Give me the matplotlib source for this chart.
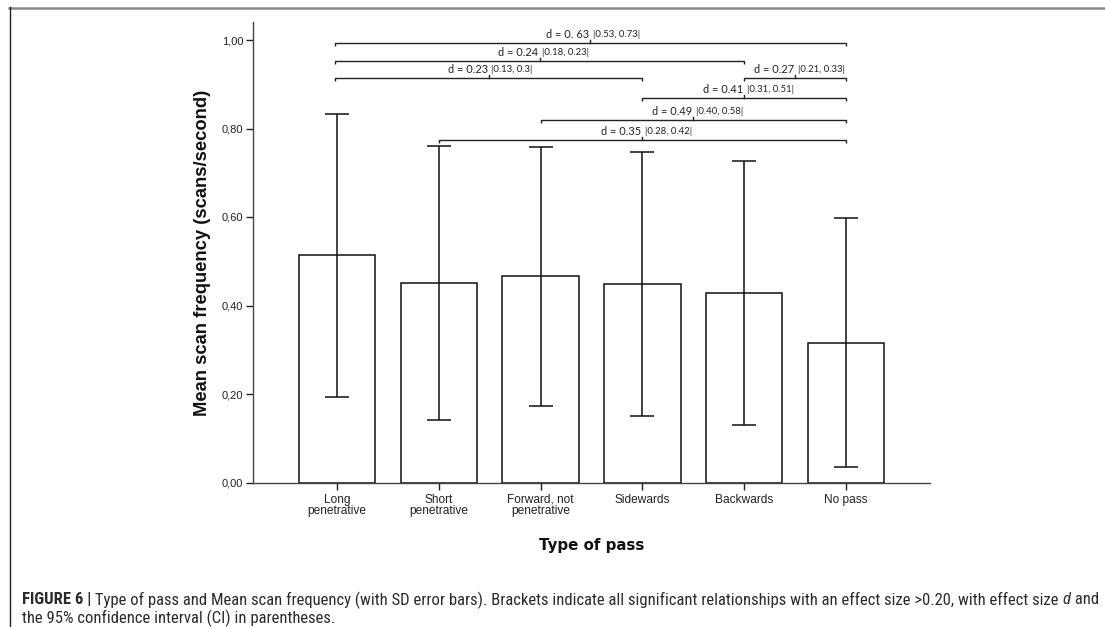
import matplotlib
matplotlib.use("Agg")
import matplotlib.pyplot as plt
from matplotlib import font_manager
from matplotlib.lines import Line2D
from matplotlib.transforms import offset_copy

# ---- data -----------------------------------------------------------------
categories = ["Long\npenetrative", "Short\npenetrative", "Forward, not\npenetrative",
              "Sidewards", "Backwards", "No pass"]
means = [0.513, 0.451, 0.466, 0.448, 0.429, 0.316]
sds = [0.319, 0.310, 0.292, 0.298, 0.298, 0.281]
y_ticks = [0.0, 0.2, 0.4, 0.6, 0.8, 1.0]

# effect-size brackets: (from category, to category, d label, CI label)
bracket_pairs = [(0, 5), (0, 4), (0, 3), (4, 5), (3, 5), (2, 5), (1, 5)]
bracket_d = ["d = 0. 63", "d = 0.24", "d = 0.23", "d = 0.27", "d = 0.41", "d = 0.49", "d = 0.35"]
bracket_ci = ["|0.53, 0.73|", "|0.18, 0.23|", "|0.13, 0.3|", "|0.21, 0.33|",
              "|0.31, 0.51|", "|0.40, 0.58|", "|0.28, 0.42|"]
bracket_levels = [0.994, 0.953, 0.913, 0.913, 0.868, 0.819, 0.773]

caption_line1 = [("FIGURE 6 |", "bold", "normal"),
                 (" Type of pass and Mean scan frequency (with SD error bars). Brackets indicate all "
                  "significant relationships with an effect size >0.20, with effect size ", "normal", "normal"),
                 ("d", "normal", "italic"),
                 (" and", "normal", "normal")]
caption_line2 = "the 95% confidence interval (CI) in parentheses."

# ---- fonts ------------------------------------------------------------------
available = {f.name for f in font_manager.fontManager.ttflist}


def pick(*names):
    for n in names:
        if n in available:
            return n
    return "DejaVu Sans"


SANS = pick("Liberation Sans", "Arial", "DejaVu Sans")
NARROW = pick("Liberation Sans Narrow", "Roboto Condensed", "Open Sans Condensed", "Liberation Sans")
NOTE = pick("Lato", "Open Sans", "DejaVu Sans")
TITLE = pick("DejaVu Sans")

plt.rcParams["font.family"] = SANS

W, H, DPI = 1105, 627, 100
fig = plt.figure(figsize=(W / DPI, H / DPI), dpi=DPI)
fig.patch.set_facecolor("white")

ax_left, ax_right, ax_bottom, ax_top = 253, 930, 482.5, 22.3
ax = fig.add_axes([ax_left / W, 1 - ax_bottom / H, (ax_right - ax_left) / W, (ax_bottom - ax_top) / H])

x = list(range(len(categories)))
ax.bar(x, means, width=0.75, color="white", edgecolor="#111111", linewidth=1.1, zorder=2)
ax.errorbar(x, means, yerr=sds, fmt="none", ecolor="#111111", elinewidth=1.1,
            capsize=8.6, capthick=1.1, zorder=3)

ax.set_xlim(-0.825, len(categories) - 1 + 0.825)
ax.set_ylim(0, 1.04)
ax.set_yticks(y_ticks)
ax.set_yticklabels([f"{v:.2f}".replace(".", ",") for v in y_ticks], fontsize=8)
ax.set_xticks(x)
ax.set_xticklabels(categories, fontsize=8.6, linespacing=0.95)
ax.tick_params(axis="y", direction="out", length=5, width=1, pad=2, colors="#222222")
ax.tick_params(axis="x", direction="out", length=5, width=1, pad=3, colors="#222222")

for side in ("top", "right"):
    ax.spines[side].set_visible(False)
for side in ("left", "bottom"):
    ax.spines[side].set_color("#444444")
    ax.spines[side].set_linewidth(1.0)

ax.set_ylabel("Mean scan frequency (scans/second)", fontsize=13.2, fontweight="bold",
              labelpad=8, color="#111111")
ax.set_xlabel("Type of pass", fontsize=10.8, fontweight="bold", family=TITLE,
              labelpad=15, color="#111111")

# ---- brackets --------------------------------------------------------------
px = (1.04 - 0.0) / (ax_bottom - ax_top)   # one pixel in data units
for (i, j), lvl, dtxt, ctxt in zip(bracket_pairs, bracket_levels, bracket_d, bracket_ci):
    xi, xj = i - 0.02 if i == 0 else i, j
    mid = (xi + xj) / 2
    ax.plot([xi, xi, xj, xj], [lvl - 3 * px, lvl, lvl, lvl - 3 * px],
            color="#222222", lw=1.0, solid_capstyle="butt", zorder=4, clip_on=False)
    ax.plot([mid, mid], [lvl, lvl + 3 * px], color="#222222", lw=1.0, zorder=4, clip_on=False)
    tl = offset_copy(ax.transData, fig=fig, x=-1, y=8.5, units="dots")
    tr = offset_copy(ax.transData, fig=fig, x=2.5, y=8.5, units="dots")
    ax.text(mid, lvl, dtxt, transform=tl, ha="right", va="center", fontsize=7.9,
            family=NOTE, color="#222222")
    ax.text(mid, lvl, ctxt, transform=tr, ha="left", va="center", fontsize=6.9,
            family=NOTE, color="#222222")

# ---- frame lines -----------------------------------------------------------
fig.add_artist(Line2D([9 / W, 1], [1 - 7.5 / H, 1 - 7.5 / H], transform=fig.transFigure,
                      color="#8a8a8a", lw=1.8))
fig.add_artist(Line2D([9.5 / W, 9.5 / W], [0, 1 - 7 / H], transform=fig.transFigure,
                      color="#222222", lw=1.0))

# ---- caption -----------------------------------------------------------------
fig.canvas.draw()
renderer = fig.canvas.get_renderer()
cap_color = "#2b2b2b"
cap_left, cap_right = 22, 1097


def place_line(pieces, y_px, size):
    xpos = cap_left
    arts = []
    for txt, weight, style in pieces:
        t = fig.text(xpos / W, 1 - y_px / H, txt, fontsize=size, fontweight=weight,
                     fontstyle=style, family=NARROW, color=cap_color, va="center", ha="left")
        bb = t.get_window_extent(renderer)
        xpos += bb.width
        arts.append(t)
    return arts, xpos


size = 9.5
arts, end = place_line(caption_line1, 600, size)
scale = (cap_right - cap_left) / (end - cap_left)
for a in arts:
    a.remove()
size *= scale
place_line(caption_line1, 600, size)
fig.text(cap_left / W, 1 - 618.5 / H, caption_line2, fontsize=size, family=NARROW,
         color=cap_color, va="center", ha="left")

fig.savefig("out.png", dpi=DPI)
